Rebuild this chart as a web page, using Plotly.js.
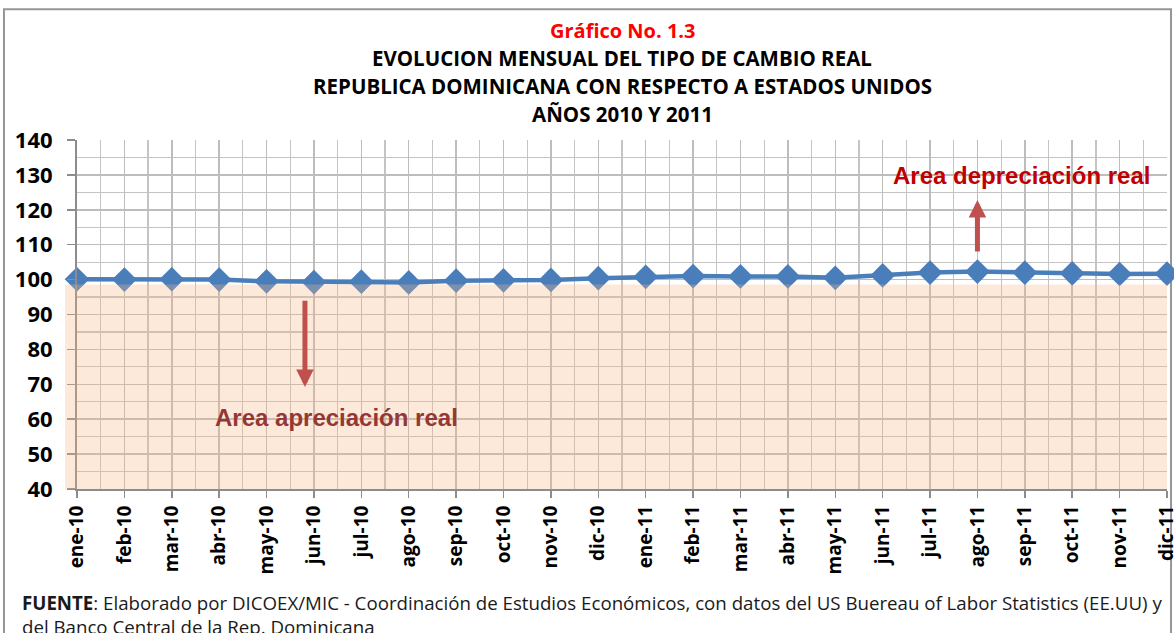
<!DOCTYPE html>
<html>
  <head>
    <title>Tipo de cambio real RD - EE.UU.</title>
    <meta http-equiv="content-type" content="text/html; charset=utf-8" />
    <style>
      body {
        margin: 0;
        background-color: #FFFFFF;
      }
    </style>
    <script src="https://cdn.plot.ly/plotly-3.0.1.min.js"></script>
  </head>
  <body>
    <div id="grafico"></div>
    <script>
      // meses 2010-2011
      var meses = ['ene-10', 'feb-10', 'mar-10', 'abr-10', 'may-10', 'jun-10',
                   'jul-10', 'ago-10', 'sep-10', 'oct-10', 'nov-10', 'dic-10',
                   'ene-11', 'feb-11', 'mar-11', 'abr-11', 'may-11', 'jun-11',
                   'jul-11', 'ago-11', 'sep-11', 'oct-11', 'nov-11', 'dic-11'];

      // indice tipo de cambio real
      var tcr = [100.1, 100.0, 100.1, 100.0, 99.5, 99.3,
                 99.4, 99.2, 99.7, 99.8, 99.9, 100.4,
                 100.8, 101.0, 100.9, 100.9, 100.5, 101.2,
                 102.0, 102.3, 102.0, 101.8, 101.6, 101.7];

      var yTicks = [40, 50, 60, 70, 80, 90, 100, 110, 120, 130, 140];

      var tituloLineas = [
        'EVOLUCION MENSUAL DEL TIPO DE CAMBIO REAL',
        'REPUBLICA DOMINICANA CON RESPECTO A ESTADOS UNIDOS',
        'AÑOS 2010 Y 2011'
      ];

      var fuente = '<b>FUENTE</b>: Elaborado por DICOEX/MIC - Coordinación de Estudios Económicos, con datos del US Buereau of Labor Statistics (EE.UU) y<br>del Banco Central de la Rep. Dominicana';

      var idx = [];
      for (var i = 0; i < meses.length; i++) {
        idx.push(i);
      }

      var fontTxt = '"Open Sans", Lato, sans-serif';
      var fontArial = '"Liberation Sans", Arial, sans-serif';

      var sets = [
        {
          name: 'TCR',
          x: idx,
          y: tcr,
          type: 'scatter',
          mode: 'lines+markers',
          line: {color: '#4A7EBB', width: 4.5},
          marker: {symbol: 'diamond', size: 19, color: '#4A7EBB'},
          cliponaxis: false,
          hoverinfo: 'y'
        }
      ];

      var anots = [
        {
          xref: 'paper', yref: 'paper', x: 0.5, y: 1.315,
          xanchor: 'center', yanchor: 'middle', showarrow: false,
          text: '<b>Gráfico No. 1.3</b>',
          font: {family: fontTxt, size: 20, color: '#FF0000'}
        }
      ];
      for (i = 0; i < tituloLineas.length; i++) {
        anots.push({
          xref: 'paper', yref: 'paper', x: 0.5, y: 1.235 - i * 0.0802,
          xanchor: 'center', yanchor: 'middle', showarrow: false,
          text: '<b>' + tituloLineas[i] + '</b>',
          font: {family: fontTxt, size: 20.5, color: '#000000'}
        });
      }

      // flechas
      anots.push({
        x: 19, y: 122.8, ax: 19, ay: 107.6, xref: 'x', yref: 'y', axref: 'x', ayref: 'y',
        text: '', showarrow: true, arrowhead: 2, arrowsize: 0.7, arrowwidth: 5,
        arrowcolor: '#C0504D'
      });
      anots.push({
        x: 4.81, y: 69.2, ax: 4.81, ay: 94.4, xref: 'x', yref: 'y', axref: 'x', ayref: 'y',
        text: '', showarrow: true, arrowhead: 2, arrowsize: 0.7, arrowwidth: 5,
        arrowcolor: '#C0504D'
      });
      anots.push({
        x: 19.92, y: 129.7, xref: 'x', yref: 'y', showarrow: false,
        text: '<b>Area depreciación real</b>',
        font: {family: fontArial, size: 24, color: '#C00000'}
      });
      anots.push({
        x: 5.47, y: 60.6, xref: 'x', yref: 'y', showarrow: false,
        text: '<b>Area apreciación real</b>',
        font: {family: fontArial, size: 24, color: '#953735'}
      });
      anots.push({
        xref: 'paper', yref: 'paper', x: -0.0523, y: -0.285,
        xanchor: 'left', yanchor: 'top', align: 'left', showarrow: false,
        text: fuente,
        font: {family: fontTxt, size: 18.7, color: '#1A1A1A'}
      });

      var options = {
        width: 1174,
        height: 633,
        margin: {l: 77, r: 7, t: 140, b: 144},
        paper_bgcolor: '#FFFFFF',
        plot_bgcolor: '#FFFFFF',
        showlegend: false,
        xaxis: {
          range: [0, 23],
          tickvals: idx,
          ticktext: meses,
          tickangle: -90,
          ticklabeloverflow: 'allow',
          showgrid: true,
          gridcolor: '#BDBDBD',
          gridwidth: 1.5,
          minor: {dtick: 0.5, tick0: 0, showgrid: true, gridcolor: '#C4C4C4', gridwidth: 1.2},
          showline: true,
          linecolor: '#8C8C8C',
          linewidth: 2,
          ticks: 'outside',
          ticklen: 7,
          tickcolor: '#8C8C8C',
          tickwidth: 1.5,
          zeroline: false,
          fixedrange: true,
          tickfont: {family: fontTxt, size: 19, color: '#000000', weight: 'bold'}
        },
        yaxis: {
          range: [40, 140],
          tickvals: yTicks,
          ticklabelstandoff: 10,
          showgrid: true,
          gridcolor: '#BDBDBD',
          gridwidth: 1.5,
          minor: {dtick: 5, tick0: 40, showgrid: true, gridcolor: '#C4C4C4', gridwidth: 1.2},
          showline: true,
          linecolor: '#8C8C8C',
          linewidth: 2,
          ticks: 'outside',
          ticklen: 8,
          tickcolor: '#8C8C8C',
          tickwidth: 1.5,
          zeroline: false,
          fixedrange: true,
          tickfont: {family: fontTxt, size: 22, color: '#000000', weight: 'bold'}
        },
        shapes: [
          {
            // area de apreciacion real
            type: 'rect', layer: 'above',
            xref: 'paper', yref: 'y',
            x0: -0.011, x1: 1.0, y0: 40, y1: 98.6,
            fillcolor: 'rgba(245,182,132,0.30)',
            line: {width: 0}
          },
          {
            // marco exterior
            type: 'rect', layer: 'below',
            xref: 'paper', yref: 'paper',
            x0: -0.0670, x1: 1.0037, y0: -0.5, y1: 1.375,
            line: {color: '#969696', width: 2}
          }
        ],
        annotations: anots
      };

      Plotly.newPlot('grafico', sets, options, {displayModeBar: false, staticPlot: true});
    </script>
  </body>
</html>
